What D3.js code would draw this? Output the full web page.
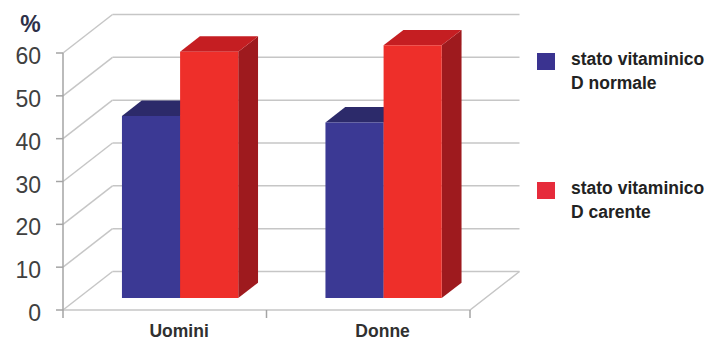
<!DOCTYPE html>
<html lang="it">
<head>
    <meta charset="UTF-8">
    <title>Stato vitaminico D</title>
    <script src="https://cdn.jsdelivr.net/npm/d3@7"></script>
    <style>
        body { margin: 0; background: #fff; }
        text { font-family: "Liberation Sans", Arial, sans-serif; }
    </style>
</head>
<body>
    <script>
        const categories = ["Uomini", "Donne"];
        const normale = [42.5, 41];
        const carente = [57.5, 59];
        const yTicks = [0, 10, 20, 30, 40, 50, 60];
        const legendLabels = [["stato vitaminico", "D normale"], ["stato vitaminico", "D carente"]];

        const width = 708;
        const height = 342;

        const colors = [
            { front: "#3b3994", top: "#2c2a6a", side: "#262460", legend: "#3a3390" },
            { front: "#ee2f2a", top: "#c51e22", side: "#9e1a1e", legend: "#e62b3b" }
        ];

        // oblique depth of the whole box, and where the bars sit in it
        const DX = 49.5, DY = 38.5;
        const f0 = 0.31, f1 = 0.71;

        const y = d3.scaleLinear().domain([0, 60]).range([310, 53]);
        const x0 = d3.scaleBand().domain(categories).range([63, 470]);
        const x1 = d3.scaleBand().domain([0, 1]).range([0, x0.bandwidth()]).paddingOuter(0.75);

        const p = (x, v, f) => [x + f * DX, y(v) - f * DY];

        const svg = d3.select("body").append("svg")
            .attr("width", width)
            .attr("height", height)
            .attr("viewBox", [0, 0, width, height]);

        const [xa, xb] = x0.range();
        const grid = svg.append("g").attr("stroke", "#c6c6c6").attr("stroke-width", 1.5).attr("fill", "none");

        // back wall
        grid.selectAll("line.back").data(yTicks).join("line")
            .attr("class", "back")
            .attr("x1", xa + DX).attr("x2", xb + DX)
            .attr("y1", d => y(d) - DY).attr("y2", d => y(d) - DY);

        // left wall
        grid.selectAll("line.side").data(yTicks).join("line")
            .attr("class", "side")
            .attr("x1", xa).attr("x2", xa + DX)
            .attr("y1", d => y(d)).attr("y2", d => y(d) - DY);

        // floor
        grid.append("path")
            .attr("d", `M${xa},${y(0)}H${xb}L${xb + DX},${y(0) - DY}`);

        // axes
        const axis = svg.append("g").attr("stroke", "#a4a4a4").attr("stroke-width", 1.5);
        axis.append("line").attr("x1", xa).attr("x2", xa).attr("y1", y(0)).attr("y2", y(60));
        axis.selectAll("line.yt").data(yTicks).join("line")
            .attr("class", "yt")
            .attr("x1", xa - 7).attr("x2", xa)
            .attr("y1", d => y(d)).attr("y2", d => y(d));
        axis.selectAll("line.xt").data([...categories.map(c => x0(c)), xb]).join("line")
            .attr("class", "xt")
            .attr("x1", d => d).attr("x2", d => d)
            .attr("y1", y(0)).attr("y2", y(0) + 8);

        svg.append("g").selectAll("text").data(yTicks).join("text")
            .attr("x", 41)
            .attr("y", d => y(d) + 11)
            .attr("text-anchor", "end")
            .attr("font-size", 23)
            .attr("fill", "#404040")
            .text(d => d);

        svg.append("text")
            .attr("x", 30.5).attr("y", 32)
            .attr("text-anchor", "middle")
            .attr("font-size", 23)
            .attr("font-weight", "bold")
            .attr("fill", "#2d3048")
            .text("%");

        // bars
        const bars = [];
        categories.forEach((c, i) => {
            [normale[i], carente[i]].forEach((v, s) => {
                bars.push({ c, s, v, xl: x0(c) + x1(s), xr: x0(c) + x1(s) + x1.bandwidth() });
            });
        });

        const poly = pts => "M" + pts.map(q => q.join(",")).join("L") + "Z";
        const barG = svg.append("g").selectAll("g").data(bars).join("g");

        barG.append("path")
            .attr("fill", d => colors[d.s].side)
            .attr("d", d => poly([p(d.xr, 0, f0), p(d.xr, d.v, f0), p(d.xr, d.v, f1), p(d.xr, 0, f1)]));
        barG.append("path")
            .attr("fill", d => colors[d.s].top)
            .attr("d", d => poly([p(d.xl, d.v, f0), p(d.xr, d.v, f0), p(d.xr, d.v, f1), p(d.xl, d.v, f1)]));
        barG.append("path")
            .attr("fill", d => colors[d.s].front)
            .attr("d", d => poly([p(d.xl, 0, f0), p(d.xr, 0, f0), p(d.xr, d.v, f0), p(d.xl, d.v, f0)]));

        // category labels
        svg.append("g").selectAll("text").data(categories).join("text")
            .attr("x", d => x0(d) + x0.bandwidth() / 2 + f0 * DX - 1)
            .attr("y", 337)
            .attr("text-anchor", "middle")
            .attr("font-size", 17.5)
            .attr("font-weight", "bold")
            .attr("fill", "#303030")
            .text(d => d);

        // legend
        const legend = svg.append("g").selectAll("g").data(legendLabels).join("g")
            .attr("transform", (d, i) => `translate(537, ${53 + i * 129})`);
        legend.append("rect")
            .attr("width", 18).attr("height", 17)
            .attr("fill", (d, i) => colors[i].legend);
        legend.append("text")
            .attr("font-size", 17.5)
            .attr("font-weight", "bold")
            .attr("fill", "#222")
            .selectAll("tspan").data(d => d).join("tspan")
            .attr("x", 34)
            .attr("y", (d, j) => 12 + j * 24)
            .text(d => d);
    </script>
</body>
</html>
